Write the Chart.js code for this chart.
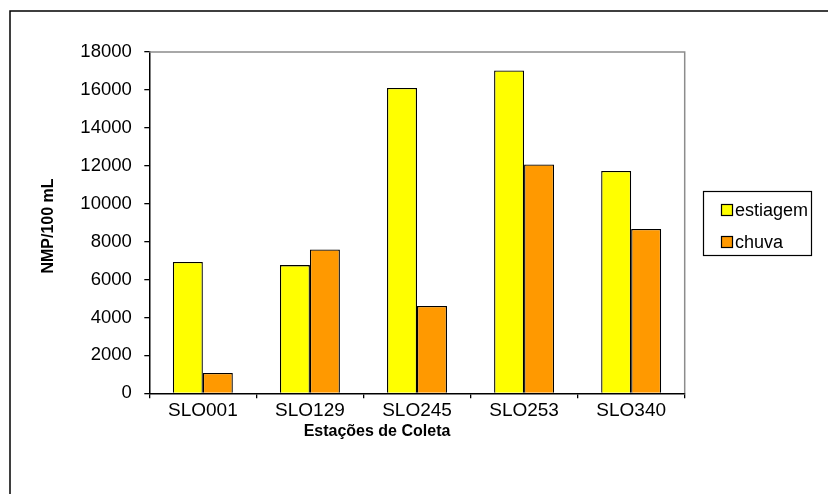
<!DOCTYPE html>
<html>
<head>
<meta charset="utf-8">
<script src="https://cdn.jsdelivr.net/npm/chart.js@4"></script>
<style>
  html, body { margin: 0; padding: 0; background: #fff; }
  canvas { display: block; }
</style>
</head>
<body>
<canvas id="c" width="828" height="494"></canvas>
<script>
// Estações de coleta e contagens (NMP/100 mL) por período
const categories = ['SLO001', 'SLO129', 'SLO245', 'SLO253', 'SLO340'];
const estiagem = [6930, 6760, 16100, 17030, 11730];
const chuva = [1070, 7590, 4610, 12070, 8670];
const yTicks = { min: 0, max: 18000, step: 2000 };
const xTitle = 'Estações de Coleta';
const yTitle = 'NMP/100 mL';

const FONT = "'Liberation Sans', Arial, sans-serif";

// Moldura externa + borda cinza superior/direita da área de plotagem
const framePlugin = {
  id: 'frame',
  beforeDraw(chart) {
    const ctx = chart.ctx;
    ctx.save();
    ctx.fillStyle = '#fff';
    ctx.fillRect(0, 0, chart.width, chart.height);
    ctx.strokeStyle = '#000';
    ctx.lineWidth = 1.5;
    ctx.beginPath();
    ctx.moveTo(10, chart.height + 2);
    ctx.lineTo(10, 11);
    ctx.lineTo(chart.width + 2, 11);
    ctx.stroke();
    ctx.restore();
  },
  afterDraw(chart) {
    const { ctx, chartArea: a } = chart;
    ctx.save();
    ctx.strokeStyle = '#8c8c8c';
    ctx.lineWidth = 1.5;
    ctx.beginPath();
    ctx.moveTo(a.left, a.top);
    ctx.lineTo(a.right, a.top);
    ctx.lineTo(a.right, a.bottom);
    ctx.stroke();
    ctx.restore();
  }
};

// Títulos dos eixos, posicionados livremente
const axisTitlesPlugin = {
  id: 'axisTitles',
  afterDraw(chart) {
    const ctx = chart.ctx;
    ctx.save();
    ctx.fillStyle = '#000';
    ctx.textAlign = 'center';
    ctx.textBaseline = 'middle';
    ctx.font = 'bold 16px ' + FONT;
    ctx.fillText(xTitle, 377, 432);
    ctx.translate(49, 226);
    ctx.rotate(-Math.PI / 2);
    ctx.fillText(yTitle, 0, 0);
    ctx.restore();
  }
};

// Legenda com caixa, à direita do gráfico
const boxLegendPlugin = {
  id: 'boxLegend',
  afterDraw(chart) {
    const ctx = chart.ctx;
    const x = 703.5, y = 191.5, w = 108, h = 64;
    ctx.save();
    ctx.strokeStyle = '#000';
    ctx.lineWidth = 1.2;
    ctx.strokeRect(x, y, w, h);
    ctx.font = '18px ' + FONT;
    ctx.textBaseline = 'middle';
    ctx.textAlign = 'left';
    chart.data.datasets.forEach((ds, i) => {
      const cy = 210 + i * 32;
      ctx.fillStyle = ds.backgroundColor;
      ctx.fillRect(721.5, cy - 5.5, 11, 11);
      ctx.lineWidth = 1.2;
      ctx.strokeStyle = '#000';
      ctx.strokeRect(721.5, cy - 5.5, 11, 11);
      ctx.fillStyle = '#000';
      ctx.fillText(ds.label, 735, cy + 1);
    });
    ctx.restore();
  }
};

new Chart(document.getElementById('c'), {
  type: 'bar',
  data: {
    labels: categories,
    datasets: [
      { label: 'estiagem', data: estiagem, backgroundColor: '#ffff00', borderColor: '#000', borderWidth: 1.3 },
      { label: 'chuva', data: chuva, backgroundColor: '#ff9900', borderColor: '#000', borderWidth: 1.3 }
    ]
  },
  options: {
    responsive: false,
    animation: false,
    devicePixelRatio: 1,
    layout: { padding: { left: 30, top: 52, right: 143.3, bottom: 50 } },
    datasets: { bar: { categoryPercentage: 0.56, barPercentage: 1.0 } },
    plugins: { legend: { display: false }, tooltip: { enabled: false } },
    scales: {
      x: {
        afterFit(scale) { scale.height = 50.7; },
        grid: { display: true, drawOnChartArea: false, drawTicks: true, tickLength: 5, color: '#000', lineWidth: 1.3, offset: true },
        border: { display: true, color: '#000', width: 1.5 },
        ticks: { color: '#000', font: { family: FONT, size: 19 }, padding: 1, maxRotation: 0 }
      },
      y: {
        min: yTicks.min,
        max: yTicks.max,
        afterFit(scale) { scale.width = 119.3; },
        grid: { display: true, drawOnChartArea: false, drawTicks: true, tickLength: 5, color: '#000', lineWidth: 1.3 },
        border: { display: true, color: '#000', width: 1.5 },
        ticks: {
          stepSize: yTicks.step, color: '#000', font: { family: FONT, size: 18.5 }, padding: 12.5,
          callback: (v) => String(v)
        }
      }
    }
  },
  plugins: [framePlugin, axisTitlesPlugin, boxLegendPlugin]
});
</script>
</body>
</html>
